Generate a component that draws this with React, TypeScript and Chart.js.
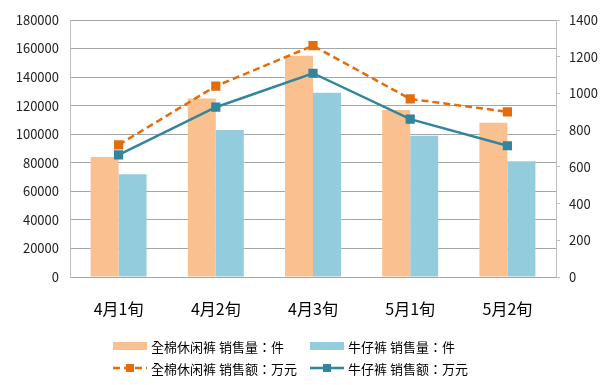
import React, { useEffect, useRef } from "react";
import { Chart, registerables } from "chart.js";

Chart.register(...registerables);

const categories = ["4月1旬", "4月2旬", "4月3旬", "5月1旬", "5月2旬"];
const cottonQty = [84000, 125000, 155000, 117000, 108000];
const jeansQty = [72000, 103000, 129000, 99000, 81000];
const cottonAmt = [720, 1040, 1260, 970, 900];
const jeansAmt = [665, 925, 1110, 860, 715];
const seriesNames = [
  "全棉休闲裤 销售量：件",
  "牛仔裤 销售量：件",
  "全棉休闲裤 销售额：万元",
  "牛仔裤 销售额：万元",
];

const ORANGE_BAR = "#FAC090";
const BLUE_BAR = "#93CDDD";
const ORANGE_LINE = "#E46C0A";
const BLUE_LINE = "#31859C";
const FONT = '"Noto Sans CJK SC", "Noto Sans", sans-serif';
const LEGEND_FONT = '"Noto Sans CJK TC", "Noto Sans CJK SC", sans-serif';

const gridLegend = {
  id: "gridLegend",
  afterDraw(chart: any) {
    const ctx = chart.ctx;
    const cols = [113, 310];
    const rows = [346, 368];
    const sw = 34;
    ctx.save();
    ctx.font = `13px ${LEGEND_FONT}`;
    ctx.textBaseline = "middle";
    ctx.fillStyle = "#000";
    chart.data.datasets.forEach((ds: any, i: number) => {
      const x = cols[i % 2];
      const y = rows[Math.floor(i / 2)];
      if (ds.type === "bar") {
        ctx.fillStyle = ds.backgroundColor;
        ctx.fillRect(x, y - 4, sw, 8);
      } else {
        ctx.strokeStyle = ds.borderColor;
        ctx.lineWidth = 2.5;
        ctx.setLineDash(ds.borderDash || []);
        ctx.beginPath();
        ctx.moveTo(x, y);
        ctx.lineTo(x + sw, y);
        ctx.stroke();
        ctx.setLineDash([]);
        ctx.fillStyle = ds.borderColor;
        ctx.fillRect(x + sw / 2 - 4, y - 4, 8, 8);
      }
      ctx.fillStyle = "#000";
      ctx.fillText(ds.label, x + sw + 4, y + 1);
    });
    ctx.restore();
  },
};

export default function App() {
  const ref = useRef<HTMLCanvasElement | null>(null);
  useEffect(() => {
    if (!ref.current) return;
    const chart = new Chart(ref.current, {
      type: "bar",
      data: {
        labels: categories,
        datasets: [
          {
            type: "bar",
            label: seriesNames[0],
            data: cottonQty,
            backgroundColor: ORANGE_BAR,
            yAxisID: "y",
            order: 2,
            categoryPercentage: 0.576,
            barPercentage: 1,
          },
          {
            type: "bar",
            label: seriesNames[1],
            data: jeansQty,
            backgroundColor: BLUE_BAR,
            yAxisID: "y",
            order: 2,
            categoryPercentage: 0.576,
            barPercentage: 1,
          },
          {
            type: "line",
            label: seriesNames[2],
            data: cottonAmt,
            borderColor: ORANGE_LINE,
            backgroundColor: ORANGE_LINE,
            borderWidth: 2.5,
            borderDash: [7, 4],
            pointStyle: "rect",
            pointRadius: 6.5,
            pointBorderWidth: 0,
            pointBackgroundColor: ORANGE_LINE,
            yAxisID: "y1",
            order: 0,
            tension: 0,
          },
          {
            type: "line",
            label: seriesNames[3],
            data: jeansAmt,
            borderColor: BLUE_LINE,
            backgroundColor: BLUE_LINE,
            borderWidth: 2.5,
            pointStyle: "rect",
            pointRadius: 6.5,
            pointBorderWidth: 0,
            pointBackgroundColor: BLUE_LINE,
            yAxisID: "y1",
            order: 0,
            tension: 0,
          },
        ] as any,
      },
      options: {
        responsive: false,
        animation: false,
        devicePixelRatio: 1,
        layout: { padding: { top: 20, left: 0, right: 0, bottom: 0 } },
        plugins: {
          legend: { display: false },
          tooltip: { enabled: false },
        },
        scales: {
          x: {
            grid: { display: false, drawTicks: false },
            border: { display: true, color: "#A6A6A6" },
            ticks: {
              font: { family: FONT, size: 16 },
              color: "#000",
              padding: 22,
            },
            afterFit: (s: any) => {
              s.height = 108;
            },
          },
          y: {
            position: "left",
            min: 0,
            max: 180000,
            ticks: {
              stepSize: 20000,
              font: { family: FONT, size: 13 },
              color: "#222",
              padding: 11,
              callback: (v: any) => String(v),
            },
            grid: { color: "#A6A6A6", drawTicks: false },
            border: { color: "#BFBFBF" },
            afterFit: (s: any) => {
              s.width = 70;
            },
          },
          y1: {
            position: "right",
            min: 0,
            max: 1400,
            ticks: {
              stepSize: 200,
              font: { family: FONT, size: 13 },
              color: "#222",
              padding: 9,
              callback: (v: any) => String(v),
            },
            grid: { drawOnChartArea: false, drawTicks: true, tickLength: 4, color: "#BFBFBF" },
            border: { color: "#BFBFBF" },
            afterFit: (s: any) => {
              s.width = 54;
            },
          },
        },
      } as any,
      plugins: [gridLegend],
    });
    return () => chart.destroy();
  }, []);
  return (
    <div style={{ position: "fixed", left: 0, top: 0, width: 610, height: 385, background: "#fff" }}>
      <canvas ref={ref} width={610} height={385} />
    </div>
  );
}
